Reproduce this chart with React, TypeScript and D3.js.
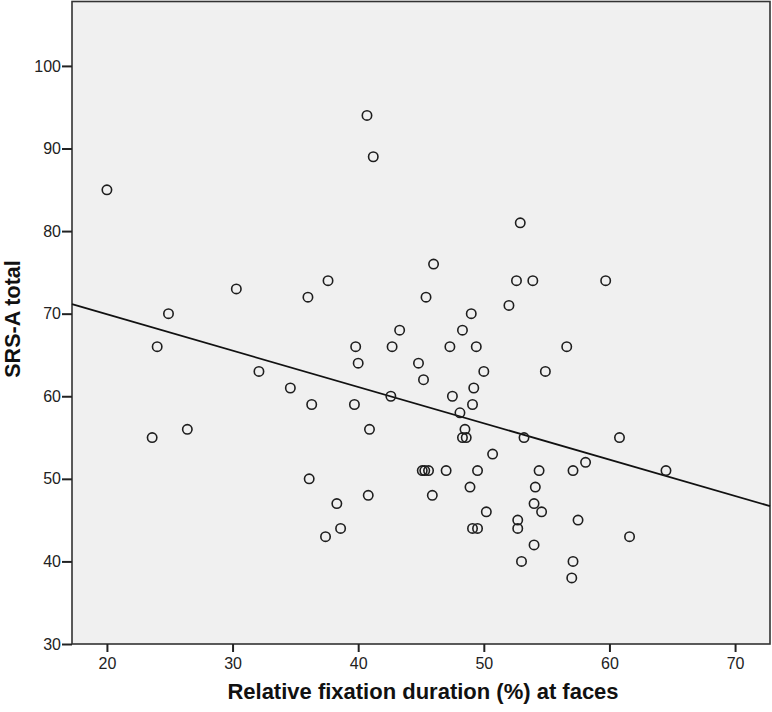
import React, { useEffect, useRef } from "react";
import { scaleLinear, select, axisBottom, axisLeft, line, mean, sum } from "d3";

// fixation duration (%) at faces
const fixation: number[] = [
  20.0, 23.6, 24.0, 24.9, 26.4, 30.3, 32.1, 34.6, 36.0, 36.3, 36.1, 37.6, 37.4, 38.3, 38.6,
  39.7, 39.8, 40.0, 40.7, 41.2, 40.9, 40.8, 42.6, 42.7, 43.3, 44.8, 45.2, 45.4, 45.1, 45.3,
  45.6, 45.9, 46.0, 47.0, 47.3, 47.5, 48.1, 48.3, 48.3, 48.6, 48.5, 48.9, 49.0, 49.1, 49.2,
  49.4, 49.5, 49.1, 49.5, 50.0, 50.2, 50.7, 52.0, 52.6, 52.9, 53.9, 53.2, 54.4, 54.1, 54.0,
  54.6, 52.7, 52.7, 54.0, 53.0, 54.9, 56.6, 57.1, 58.1, 57.5, 57.1, 57.0, 59.7, 60.8, 61.6,
  64.5,
];

// SRS-A total score
const srsTotal: number[] = [
  85, 55, 66, 70, 56, 73, 63, 61, 72, 59, 50, 74, 43, 47, 44,
  59, 66, 64, 94, 89, 56, 48, 60, 66, 68, 64, 62, 72, 51, 51,
  51, 48, 76, 51, 66, 60, 58, 68, 55, 55, 56, 49, 70, 59, 61,
  66, 51, 44, 44, 63, 46, 53, 71, 74, 81, 74, 55, 51, 49, 47,
  46, 45, 44, 42, 40, 63, 66, 51, 52, 45, 40, 38, 74, 55, 43,
  51,
];

const xTicks = [20, 30, 40, 50, 60, 70];
const yTicks = [30, 40, 50, 60, 70, 80, 90, 100];

const xLabel = "Relative fixation duration (%) at faces";
const yLabel = "SRS-A total";

const width = 772;
const height = 712;
const plot = { left: 72, top: 1.5, right: 770, bottom: 644 };
const font = "'Liberation Sans', Arial, sans-serif";

const ScatterPlot: React.FC = () => {
  const svgRef = useRef<SVGSVGElement>(null);

  useEffect(() => {
    const svg = select(svgRef.current);
    svg.selectAll("*").remove();

    const x = scaleLinear().domain([17.22, 72.78]).range([plot.left, plot.right]);
    const y = scaleLinear().domain([30, 107.8]).range([plot.bottom, plot.top]);

    // plot background
    svg
      .append("rect")
      .attr("x", plot.left)
      .attr("y", plot.top)
      .attr("width", plot.right - plot.left)
      .attr("height", plot.bottom - plot.top)
      .attr("fill", "#f0f0f0")
      .attr("stroke", "#333")
      .attr("stroke-width", 1.6);

    // least squares fit line
    const mx = mean(fixation) as number;
    const my = mean(srsTotal) as number;
    const sxy = sum(fixation.map((v, i) => (v - mx) * (srsTotal[i] - my)));
    const sxx = sum(fixation.map((v) => (v - mx) * (v - mx)));
    const slope = sxy / sxx;
    const intercept = my - slope * mx;
    const ends = x.domain();
    const fit = line<number>()
      .x((d) => x(d))
      .y((d) => y(intercept + slope * d));
    svg
      .append("path")
      .attr("d", fit(ends))
      .attr("fill", "none")
      .attr("stroke", "#111")
      .attr("stroke-width", 1.8);

    svg
      .append("g")
      .selectAll("circle")
      .data(fixation)
      .join("circle")
      .attr("cx", (d) => x(d))
      .attr("cy", (d, i) => y(srsTotal[i]))
      .attr("r", 4.7)
      .attr("fill", "none")
      .attr("stroke", "#1e1e1e")
      .attr("stroke-width", 1.6);

    const xAxis = svg
      .append("g")
      .attr("transform", `translate(0,${plot.bottom})`)
      .call(axisBottom(x).tickValues(xTicks).tickSize(8).tickSizeOuter(0).tickPadding(6));
    const yAxis = svg
      .append("g")
      .attr("transform", `translate(${plot.left},0)`)
      .call(axisLeft(y).tickValues(yTicks).tickSize(10).tickSizeOuter(0).tickPadding(1));

    [xAxis, yAxis].forEach((g) => {
      g.select(".domain").remove();
      g.selectAll("line").attr("stroke", "#222").attr("stroke-width", 2);
      g.selectAll("text")
        .attr("fill", "#222")
        .style("font-family", font)
        .style("font-size", "16px");
    });

    svg
      .append("text")
      .attr("x", 423)
      .attr("y", 699)
      .attr("text-anchor", "middle")
      .style("font-family", font)
      .style("font-size", "22px")
      .style("font-weight", "bold")
      .attr("fill", "#111")
      .text(xLabel);

    svg
      .append("text")
      .attr("transform", `translate(20,319) rotate(-90)`)
      .attr("text-anchor", "middle")
      .style("font-family", font)
      .style("font-size", "21.5px")
      .style("font-weight", "bold")
      .attr("fill", "#111")
      .text(yLabel);
  }, []);

  return (
    <svg
      ref={svgRef}
      width={width}
      height={height}
      style={{ position: "absolute", left: 0, top: 0, background: "#fff" }}
    />
  );
};

export default function App() {
  return <ScatterPlot />;
}
